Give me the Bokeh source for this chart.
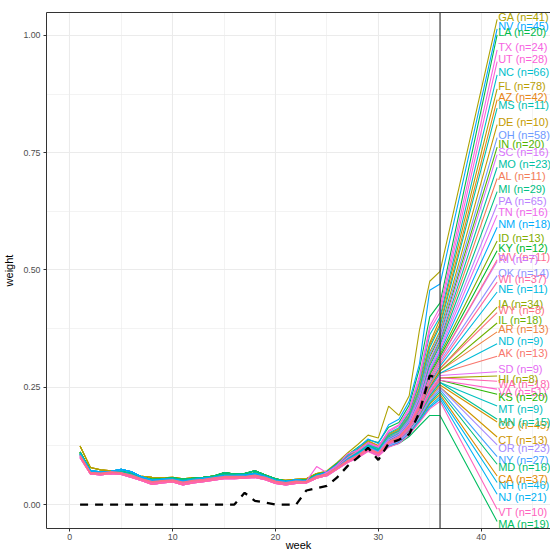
import math
from bokeh.plotting import figure
from bokeh.models import ColumnDataSource, Span, FixedTicker, LinearAxis
from bokeh.core.properties import value
from bokeh.embed import file_html
from bokeh.resources import INLINE

# ---------------- data ----------------
weeks = list(range(1, 37))
label_week = 41.55

# states in label order (top to bottom on the right)
states = ["GA", "NV", "LA", "TX", "UT", "NC", "FL", "AZ", "MS", "DE", "OH", "IN", "SC",
          "MO", "AL", "MI", "PA", "TN", "NM", "ID", "KY", "RI", "WV", "OK", "WI", "NE",
          "IA", "WY", "IL", "AR", "ND", "AK", "SD", "HI", "WA", "VA", "KS", "MT", "MN",
          "CO", "CT", "OR", "NY", "MD", "CA", "NH", "NJ", "VT", "MA"]
counts = [41, 45, 20, 24, 28, 66, 78, 42, 11, 10, 58, 20, 16,
          23, 11, 29, 65, 16, 18, 13, 12, 7, 11, 14, 37, 11,
          34, 8, 18, 13, 9, 13, 9, 8, 18, 51, 20, 9, 15,
          45, 13, 23, 27, 16, 37, 46, 21, 10, 19]
label_values = [1.040, 1.020, 1.007, 0.975, 0.950, 0.922, 0.892, 0.869, 0.851, 0.816,
                0.788, 0.768, 0.752, 0.725, 0.701, 0.673, 0.646, 0.623, 0.597, 0.568,
                0.547, 0.524, 0.528, 0.494, 0.480, 0.459, 0.427, 0.415, 0.393, 0.374,
                0.349, 0.322, 0.289, 0.268, 0.257, 0.240, 0.229, 0.204, 0.176, 0.170,
                0.138, 0.121, 0.096, 0.080, 0.055, 0.041, 0.016, -0.016, -0.042]

# weeks 1-24: shared early profiles
early_profiles = [
    [0.125, 0.079, 0.074, 0.072, 0.070, 0.066, 0.060, 0.058, 0.057, 0.058, 0.055, 0.057,
     0.058, 0.060, 0.064, 0.063, 0.063, 0.066, 0.062, 0.054, 0.052, 0.054, 0.055, 0.066],
    [0.112, 0.073, 0.066, 0.067, 0.068, 0.064, 0.058, 0.054, 0.055, 0.057, 0.054, 0.056,
     0.058, 0.061, 0.068, 0.065, 0.066, 0.072, 0.063, 0.055, 0.050, 0.052, 0.052, 0.064],
    [0.108, 0.072, 0.070, 0.071, 0.075, 0.070, 0.059, 0.052, 0.054, 0.054, 0.050, 0.053,
     0.056, 0.058, 0.062, 0.062, 0.063, 0.066, 0.060, 0.052, 0.049, 0.053, 0.050, 0.062],
    [0.105, 0.069, 0.067, 0.070, 0.068, 0.063, 0.055, 0.049, 0.051, 0.053, 0.048, 0.052,
     0.054, 0.057, 0.060, 0.060, 0.060, 0.063, 0.058, 0.050, 0.047, 0.050, 0.049, 0.061],
    [0.102, 0.066, 0.064, 0.068, 0.066, 0.060, 0.052, 0.045, 0.048, 0.050, 0.043, 0.047,
     0.050, 0.053, 0.056, 0.057, 0.058, 0.060, 0.055, 0.046, 0.043, 0.047, 0.047, 0.058],
    [0.104, 0.067, 0.065, 0.069, 0.067, 0.061, 0.054, 0.047, 0.050, 0.051, 0.046, 0.050,
     0.052, 0.055, 0.058, 0.058, 0.059, 0.061, 0.056, 0.048, 0.045, 0.048, 0.048, 0.059],
    [0.110, 0.071, 0.068, 0.066, 0.071, 0.066, 0.057, 0.053, 0.053, 0.055, 0.052, 0.055,
     0.057, 0.059, 0.064, 0.064, 0.062, 0.068, 0.061, 0.053, 0.050, 0.051, 0.051, 0.063],
    [0.100, 0.065, 0.063, 0.066, 0.064, 0.058, 0.051, 0.043, 0.046, 0.048, 0.042, 0.046,
     0.049, 0.052, 0.055, 0.055, 0.056, 0.058, 0.053, 0.045, 0.042, 0.045, 0.046, 0.056],
    [0.102, 0.066, 0.064, 0.068, 0.066, 0.060, 0.052, 0.045, 0.048, 0.050, 0.043, 0.047,
     0.050, 0.053, 0.056, 0.057, 0.058, 0.060, 0.055, 0.046, 0.043, 0.047, 0.050, 0.081],
]
early_profile_of_state = [0, 2, 1, 4, 8, 2, 0, 1, 2, 0, 5, 1, 7,
                          6, 3, 1, 4, 7, 2, 6, 6, 4, 5, 5, 7, 2,
                          1, 3, 6, 5, 3, 3, 7, 1, 5, 7, 1, 2, 6,
                          1, 0, 4, 3, 1, 2, 2, 3, 4, 6]

# weeks 25-36 per state (same order as states)
late_values = [
    [0.072, 0.090, 0.110, 0.128, 0.148, 0.142, 0.210, 0.190, 0.232, 0.372, 0.476, 0.497],
    [0.070, 0.086, 0.104, 0.120, 0.140, 0.130, 0.170, 0.182, 0.220, 0.300, 0.457, 0.470],
    [0.070, 0.088, 0.106, 0.122, 0.138, 0.132, 0.165, 0.175, 0.212, 0.290, 0.400, 0.430],
    [0.068, 0.084, 0.108, 0.116, 0.132, 0.124, 0.158, 0.170, 0.205, 0.275, 0.380, 0.420],
    [0.068, 0.082, 0.100, 0.114, 0.130, 0.122, 0.155, 0.168, 0.200, 0.268, 0.372, 0.410],
    [0.067, 0.083, 0.100, 0.113, 0.131, 0.121, 0.152, 0.164, 0.196, 0.262, 0.362, 0.400],
    [0.069, 0.085, 0.101, 0.115, 0.134, 0.125, 0.150, 0.162, 0.195, 0.258, 0.345, 0.395],
    [0.068, 0.083, 0.099, 0.112, 0.130, 0.120, 0.148, 0.160, 0.190, 0.250, 0.340, 0.385],
    [0.067, 0.082, 0.098, 0.111, 0.128, 0.119, 0.146, 0.158, 0.188, 0.246, 0.335, 0.380],
    [0.069, 0.086, 0.102, 0.118, 0.136, 0.126, 0.147, 0.156, 0.186, 0.240, 0.325, 0.370],
    [0.064, 0.078, 0.094, 0.106, 0.122, 0.112, 0.142, 0.154, 0.182, 0.236, 0.320, 0.365],
    [0.068, 0.083, 0.099, 0.112, 0.130, 0.120, 0.144, 0.153, 0.182, 0.233, 0.315, 0.360],
    [0.063, 0.077, 0.092, 0.104, 0.120, 0.110, 0.138, 0.150, 0.178, 0.230, 0.308, 0.355],
    [0.067, 0.082, 0.098, 0.110, 0.127, 0.117, 0.141, 0.151, 0.179, 0.228, 0.305, 0.350],
    [0.066, 0.080, 0.096, 0.108, 0.124, 0.114, 0.139, 0.149, 0.176, 0.225, 0.300, 0.345],
    [0.067, 0.082, 0.097, 0.110, 0.126, 0.116, 0.140, 0.150, 0.176, 0.222, 0.296, 0.340],
    [0.063, 0.077, 0.092, 0.103, 0.118, 0.108, 0.134, 0.146, 0.172, 0.220, 0.290, 0.335],
    [0.062, 0.076, 0.091, 0.102, 0.117, 0.107, 0.133, 0.144, 0.170, 0.218, 0.286, 0.330],
    [0.066, 0.080, 0.096, 0.108, 0.124, 0.114, 0.138, 0.148, 0.174, 0.218, 0.284, 0.325],
    [0.067, 0.081, 0.097, 0.109, 0.125, 0.115, 0.138, 0.148, 0.173, 0.216, 0.280, 0.320],
    [0.067, 0.081, 0.096, 0.108, 0.124, 0.114, 0.137, 0.147, 0.172, 0.214, 0.276, 0.315],
    [0.063, 0.077, 0.092, 0.103, 0.118, 0.108, 0.133, 0.144, 0.170, 0.212, 0.272, 0.310],
    [0.064, 0.078, 0.093, 0.104, 0.120, 0.110, 0.134, 0.145, 0.170, 0.212, 0.270, 0.310],
    [0.064, 0.078, 0.093, 0.104, 0.119, 0.109, 0.133, 0.144, 0.169, 0.210, 0.266, 0.305],
    [0.062, 0.076, 0.091, 0.102, 0.117, 0.107, 0.131, 0.142, 0.168, 0.208, 0.262, 0.300],
    [0.065, 0.079, 0.094, 0.106, 0.121, 0.111, 0.134, 0.144, 0.168, 0.206, 0.258, 0.295],
    [0.066, 0.080, 0.095, 0.107, 0.123, 0.113, 0.135, 0.144, 0.168, 0.205, 0.255, 0.290],
    [0.065, 0.079, 0.094, 0.105, 0.120, 0.110, 0.133, 0.143, 0.167, 0.204, 0.254, 0.290],
    [0.066, 0.080, 0.095, 0.106, 0.122, 0.112, 0.134, 0.143, 0.166, 0.202, 0.250, 0.285],
    [0.064, 0.078, 0.093, 0.104, 0.119, 0.109, 0.132, 0.142, 0.166, 0.202, 0.250, 0.285],
    [0.065, 0.079, 0.094, 0.105, 0.120, 0.110, 0.132, 0.142, 0.165, 0.200, 0.247, 0.280],
    [0.065, 0.079, 0.094, 0.105, 0.120, 0.111, 0.133, 0.142, 0.165, 0.200, 0.246, 0.280],
    [0.062, 0.076, 0.090, 0.101, 0.116, 0.106, 0.129, 0.140, 0.163, 0.198, 0.244, 0.275],
    [0.066, 0.080, 0.095, 0.106, 0.121, 0.111, 0.132, 0.141, 0.163, 0.196, 0.240, 0.270],
    [0.063, 0.077, 0.091, 0.102, 0.117, 0.107, 0.130, 0.140, 0.162, 0.196, 0.240, 0.270],
    [0.062, 0.076, 0.090, 0.101, 0.116, 0.106, 0.129, 0.139, 0.161, 0.194, 0.236, 0.265],
    [0.066, 0.080, 0.095, 0.106, 0.121, 0.111, 0.131, 0.140, 0.161, 0.194, 0.236, 0.265],
    [0.065, 0.079, 0.093, 0.104, 0.119, 0.109, 0.130, 0.139, 0.160, 0.192, 0.232, 0.260],
    [0.066, 0.080, 0.094, 0.105, 0.120, 0.110, 0.130, 0.139, 0.160, 0.192, 0.232, 0.260],
    [0.067, 0.081, 0.095, 0.106, 0.121, 0.111, 0.130, 0.138, 0.158, 0.190, 0.228, 0.255],
    [0.068, 0.082, 0.096, 0.107, 0.122, 0.112, 0.130, 0.137, 0.157, 0.188, 0.225, 0.250],
    [0.061, 0.075, 0.089, 0.100, 0.114, 0.104, 0.126, 0.135, 0.155, 0.186, 0.224, 0.250],
    [0.063, 0.077, 0.091, 0.102, 0.116, 0.106, 0.127, 0.135, 0.155, 0.185, 0.220, 0.245],
    [0.066, 0.080, 0.094, 0.104, 0.119, 0.109, 0.128, 0.135, 0.154, 0.183, 0.217, 0.240],
    [0.067, 0.081, 0.095, 0.105, 0.120, 0.110, 0.128, 0.134, 0.153, 0.181, 0.214, 0.235],
    [0.064, 0.078, 0.092, 0.102, 0.116, 0.106, 0.125, 0.132, 0.151, 0.179, 0.210, 0.230],
    [0.063, 0.077, 0.091, 0.101, 0.115, 0.105, 0.124, 0.131, 0.150, 0.177, 0.207, 0.225],
    [0.061, 0.075, 0.089, 0.099, 0.113, 0.103, 0.122, 0.130, 0.149, 0.175, 0.204, 0.220],
    [0.066, 0.080, 0.094, 0.104, 0.118, 0.108, 0.124, 0.130, 0.145, 0.168, 0.190, 0.190],
]

# overall (black dashed) series, weeks 1-36
overall_weight = [0, 0, 0, 0, 0, 0, 0, 0, 0, 0, 0, 0, 0, 0, 0, 0,
                  0.025, 0.008, 0.004, 0.0, 0.0, 0.0, 0.030, 0.035, 0.040, 0.058,
                  0.082, 0.100, 0.121, 0.095, 0.130, 0.138, 0.150, 0.197, 0.275, 0.268]

x_ticks = [0, 10, 20, 30, 40]
y_ticks = [0.0, 0.25, 0.5, 0.75, 1.0]
label_front = ["RI", "KS", "CA", "HI", "WY", "OR", "MN"]


# ---------------- colours (ggplot2 hue palette) ----------------
def hcl_hex(h, c=100.0, l=65.0):
    hr = math.radians(h)
    u, v = c * math.cos(hr), c * math.sin(hr)
    xn, yn, zn = 95.047, 100.0, 108.883
    den = xn + 15 * yn + 3 * zn
    un, vn = 4 * xn / den, 9 * yn / den
    Y = yn * ((l + 16) / 116) ** 3
    up, vp = u / (13 * l) + un, v / (13 * l) + vn
    X = 9 * Y * up / (4 * vp)
    Z = (12 - 3 * up - 20 * vp) * Y / (4 * vp)
    X, Y, Z = X / 100, Y / 100, Z / 100
    rgb = [3.240479 * X - 1.537150 * Y - 0.498535 * Z,
           -0.969256 * X + 1.875992 * Y + 0.041556 * Z,
           0.055648 * X - 0.204043 * Y + 1.057311 * Z]
    out = []
    for ch in rgb:
        ch = 12.92 * ch if ch <= 0.0031308 else 1.055 * ch ** (1 / 2.4) - 0.055
        out.append(int(round(min(max(ch, 0), 1) * 255)))
    return "#%02x%02x%02x" % tuple(out)


alpha_order = sorted(states)
nlev = len(alpha_order)
pal = {s: hcl_hex((15 + 360 * i / nlev) % 360) for i, s in enumerate(alpha_order)}

# ---------------- figure ----------------
p = figure(width=550, height=553, output_backend="svg", toolbar_location=None,
           x_range=(-2.265, 46.74), y_range=(-0.051, 1.0488),
           min_border_left=46, min_border_right=0, min_border_top=12, min_border_bottom=23)
p.background_fill_color = "white"
p.border_fill_color = "white"
p.outline_line_color = None

xt = FixedTicker(ticks=x_ticks, minor_ticks=[5, 15, 25, 35, 45])
yt = FixedTicker(ticks=y_ticks, minor_ticks=[0.125, 0.375, 0.625, 0.875])
for ax, tk in ((p.xaxis[0], xt), (p.yaxis[0], yt)):
    ax.ticker = tk
    ax.axis_line_color = "#333333"
    ax.major_tick_line_color = "#333333"
    ax.major_tick_in = 0
    ax.minor_tick_line_color = None
    ax.major_label_text_font = "Liberation Sans"
    ax.major_label_text_font_size = "8.8px"
    ax.major_label_text_color = "#4d4d4d"
    ax.axis_label_text_font = "Liberation Sans"
    ax.axis_label_text_font_size = "11px"
    ax.axis_label_text_font_style = "normal"
    ax.axis_label_text_color = "black"
p.xaxis.axis_label = "week"
p.yaxis.axis_label = "weight"
p.xaxis.major_tick_out = 3
p.xaxis.major_label_standoff = 1
p.xaxis.axis_label_standoff = -4
p.yaxis.major_tick_out = 3
p.yaxis.major_label_standoff = 2
p.yaxis.axis_label_standoff = 5
p.yaxis.major_label_overrides = {t: "%.2f" % t for t in y_ticks}

top_axis = LinearAxis(ticker=FixedTicker(ticks=[]), axis_line_color="#333333",
                      major_tick_line_color=None, minor_tick_line_color=None,
                      major_tick_out=0, major_label_standoff=0)
p.add_layout(top_axis, "above")

for g, tk in ((p.xgrid[0], xt), (p.ygrid[0], yt)):
    g.ticker = tk
    g.grid_line_color = "#ebebeb"
    g.grid_line_width = 1.1
    g.minor_grid_line_color = "#ebebeb"
    g.minor_grid_line_width = 0.6

# state lines (drawn in alphabetical order)
xs, ys, cols = [], [], []
for s in alpha_order:
    i = states.index(s)
    series = early_profiles[early_profile_of_state[i]] + late_values[i]
    start = series[-1]
    end = label_values[i]
    end_adj = end - 0.006 * (1 if end > start else -1)
    xs.append(weeks + [label_week])
    ys.append(series + [end_adj])
    cols.append(pal[s])
p.multi_line(xs="xs", ys="ys", line_color="cols", line_width=1.1,
             source=ColumnDataSource(dict(xs=xs, ys=ys, cols=cols)))

p.line(weeks, overall_weight, line_color="black", line_width=2.3, line_dash="8 7")

p.add_layout(Span(location=36, dimension="height", line_color="#3a3a3a", line_width=1.2))

# labels
order = [s for s in states if s not in label_front] + label_front
lx, ly, lt, lc = [], [], [], []
for s in order:
    i = states.index(s)
    lx.append(label_week + 0.1)
    ly.append(label_values[i])
    lt.append("%s (n=%d)" % (s, counts[i]))
    lc.append(pal[s])
p.text(x="x", y="y", text="t", text_color="c", source=ColumnDataSource(dict(x=lx, y=ly, t=lt, c=lc)),
       text_font=value("Liberation Sans"), text_font_size=value("11px"),
       text_align="left", text_baseline="middle")

open("out.html", "w").write(file_html(p, INLINE))
